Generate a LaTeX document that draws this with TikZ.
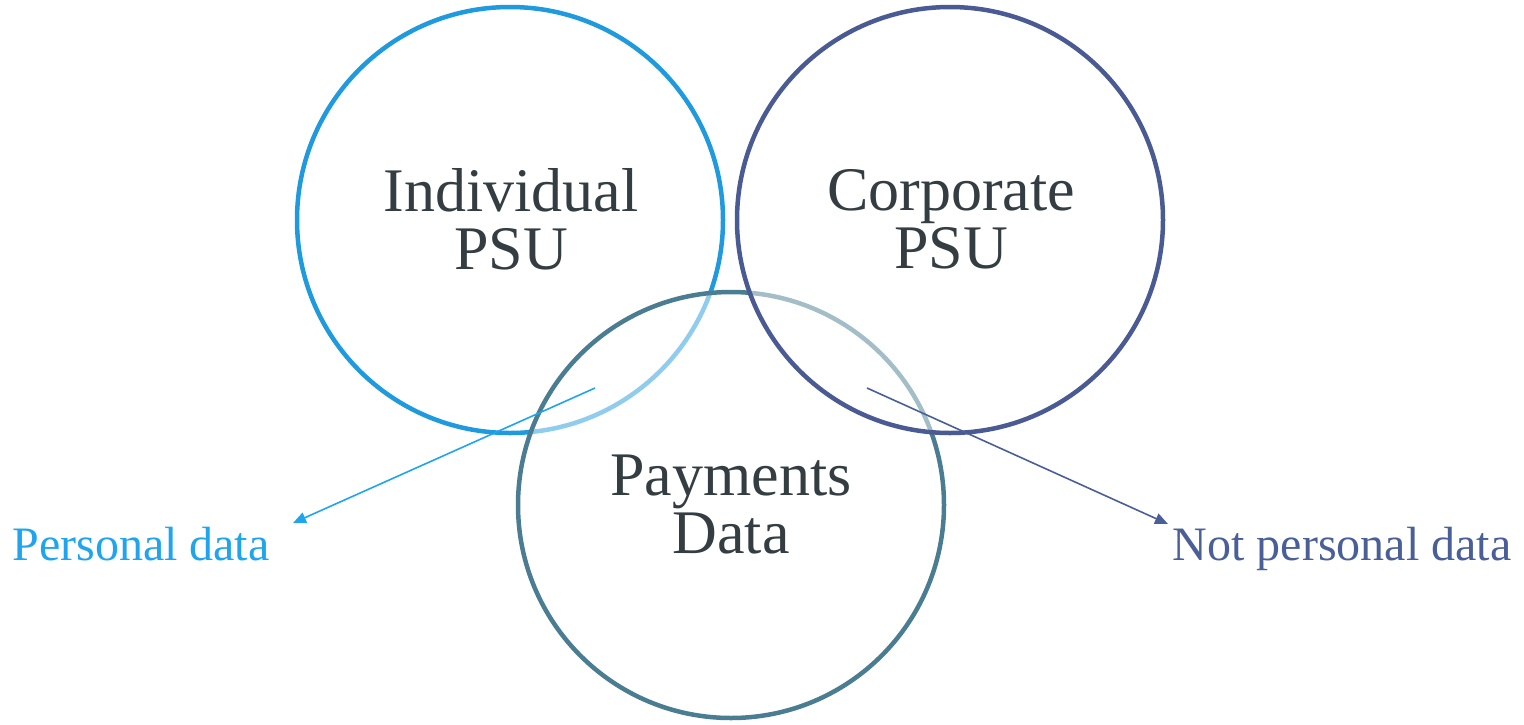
\documentclass[tikz,border=0pt]{standalone}
\usepackage{fontspec}
\setmainfont{Liberation Serif}
\usetikzlibrary{arrows.meta}
\definecolor{indiv}{HTML}{1F9ADE}
\definecolor{pay}{HTML}{4A7D91}
\definecolor{corp}{HTML}{4A5A92}
\definecolor{txt}{HTML}{333D42}
\definecolor{perslab}{HTML}{1EA5EE}
\definecolor{notlab}{HTML}{4A5F98}
\tikzset{
  ring/.style={line width=4.5pt},
  veil/.style={fill=white, fill opacity=0.5},
  bigtext/.style={text=txt, align=center, font=\fontsize{62}{58}\selectfont},
  labeltext/.style={font=\fontsize{48}{48}\selectfont, inner sep=0pt},
  pointer/.style={line width=1.6pt, -{Triangle[length=13pt,width=11pt]}}
}
\begin{document}
\begin{tikzpicture}[x=1pt,y=-1pt]
\useasboundingbox (0,0) rectangle (1524,724);
\draw[ring, indiv] (510,220) circle (213);
\draw[ring, pay, veil] (731,505) circle (213);
\draw[ring, corp, veil] (950,220) circle (213);
\node[bigtext] (ind) at (511,219) {Individual\\PSU};
\node[bigtext] (cor) at (951,219) {Corporate\\PSU};
\node[bigtext] (pd) at (731,504) {Payments\\Data};
\coordinate (ps) at (595,388);
\coordinate (ns) at (867,388);
\node[labeltext, text=perslab, anchor=base] (pl) at (141,560) {Personal data};
\node[labeltext, text=notlab, anchor=base] (npl) at (1342,560) {Not personal data};
\coordinate (pe) at (293,523);
\coordinate (ne) at (1168,524);
\draw[pointer, perslab] (ps) -- (pe);
\draw[pointer, notlab] (ns) -- (ne);
\end{tikzpicture}
\end{document}
